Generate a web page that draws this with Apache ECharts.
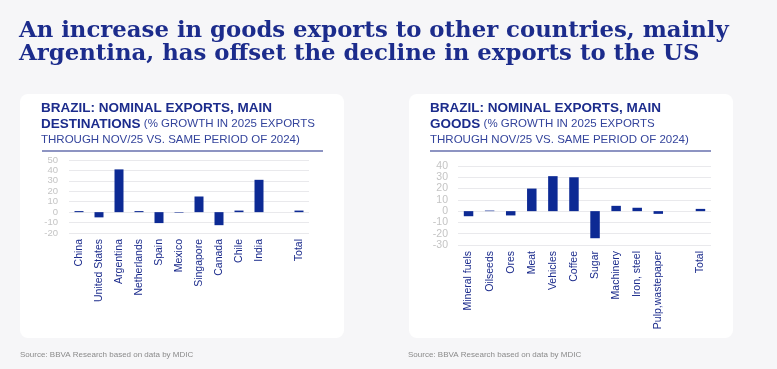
<!DOCTYPE html>
<html><head><meta charset="utf-8">
<script src="https://cdn.jsdelivr.net/npm/echarts@6/dist/echarts.min.js"></script>
<style>html,body{margin:0;padding:0;background:#f6f6f8}#c{width:777px;height:369px}</style>
</head><body><div id="c"></div>
<script>
var destCategories = ['China','United States','Argentina','Netherlands','Spain','Mexico','Singapore','Canada','Chile','India','','Total'];
var destValues = [1, -5, 41, 1, -10.5, -0.5, 15, -12.5, 1.5, 31, null, 1.5];
var destTicks = {min: -20, max: 50, interval: 10};
var goodsCategories = ['Mineral fuels','Oilseeds','Ores','Meat','Vehicles','Coffee','Sugar','Machinery','Iron, steel','Pulp,wastepaper','','Total'];
var goodsValues = [-4.5, 0.5, -3.8, 20, 31, 30, -24, 4.7, 3, -2.4, null, 2];
var goodsTicks = {min: -30, max: 40, interval: 10};

var NAVY = '#0d2a94';
var TITLE = '#1c2c8c';
var chart = echarts.init(document.getElementById('c'), null, {renderer: 'canvas'});

function subtitle(x, word) {
  return {
    type: 'text', left: x, top: 101,
    style: {
      text: '{b|BRAZIL: NOMINAL EXPORTS, MAIN}\n{b|' + word + '} {n|(% GROWTH IN 2025 EXPORTS}\n{n|THROUGH NOV/25 VS. SAME PERIOD OF 2024)}',
      rich: {
        b: {fontFamily: 'Liberation Sans, Arial', fontWeight: 'bold', fontSize: 13.5, fill: TITLE, lineHeight: 16},
        n: {fontFamily: 'Liberation Sans, Arial', fontSize: 11.5, fill: '#34449c', lineHeight: 16}
      }
    }
  };
}

function yAxis(t, gi) {
  return {
    type: 'value', gridIndex: gi, min: t.min, max: t.max, interval: t.interval,
    axisLabel: {color: '#c4c4c4', fontSize: gi === 0 ? 9.5 : 10.5, fontFamily: 'Liberation Sans, Arial', margin: gi === 0 ? 11 : 10,
      showMinLabel: true, showMaxLabel: true, hideOverlap: false},
    axisLine: {show: false}, axisTick: {show: false},
    splitLine: {lineStyle: {color: '#e9e9ec', width: 1}}
  };
}
function xAxis(cats, gi) {
  return {
    type: 'category', gridIndex: gi, data: cats,
    axisLine: {show: false}, axisTick: {show: false},
    axisLabel: {rotate: 90, interval: 0, color: TITLE, fontSize: 10.5, fontFamily: 'Liberation Sans, Arial', margin: 6}
  };
}

chart.setOption({
  backgroundColor: '#f6f6f8',
  animation: false,
  graphic: [
    {type: 'rect', shape: {x: 20, y: 94, width: 324, height: 244, r: 8}, style: {fill: '#ffffff'}},
    {type: 'rect', shape: {x: 409, y: 94, width: 324, height: 244, r: 8}, style: {fill: '#ffffff'}},
    {type: 'text', left: 19, top: 20, style: {
      text: 'An increase in goods exports to other countries, mainly\nArgentina, has offset the decline in exports to the US',
      fontFamily: 'DejaVu Serif, serif', fontWeight: 'bold', fontSize: 22.8, lineHeight: 23, fill: TITLE}},
    subtitle(41, 'DESTINATIONS'),
    subtitle(430, 'GOODS'),
    {type: 'rect', shape: {x: 42, y: 150, width: 281, height: 2}, style: {fill: '#8d94c2'}},
    {type: 'rect', shape: {x: 430, y: 150, width: 281, height: 2}, style: {fill: '#8d94c2'}},
    {type: 'text', left: 20, top: 351, style: {text: 'Source: BBVA Research based on data by MDIC', fontFamily: 'Liberation Sans, Arial', fontSize: 8, fill: '#8a8a8a'}},
    {type: 'text', left: 408, top: 351, style: {text: 'Source: BBVA Research based on data by MDIC', fontFamily: 'Liberation Sans, Arial', fontSize: 8, fill: '#8a8a8a'}}
  ],
  grid: [
    {left: 69, top: 160, width: 240, height: 73},
    {left: 458, top: 166, width: 253, height: 79}
  ],
  xAxis: [xAxis(destCategories, 0), xAxis(goodsCategories, 1)],
  yAxis: [yAxis(destTicks, 0), yAxis(goodsTicks, 1)],
  series: [
    {type: 'bar', xAxisIndex: 0, yAxisIndex: 0, data: destValues, barWidth: '45%', itemStyle: {color: NAVY}},
    {type: 'bar', xAxisIndex: 1, yAxisIndex: 1, data: goodsValues, barWidth: '45%', itemStyle: {color: NAVY}}
  ]
});
</script></body></html>
